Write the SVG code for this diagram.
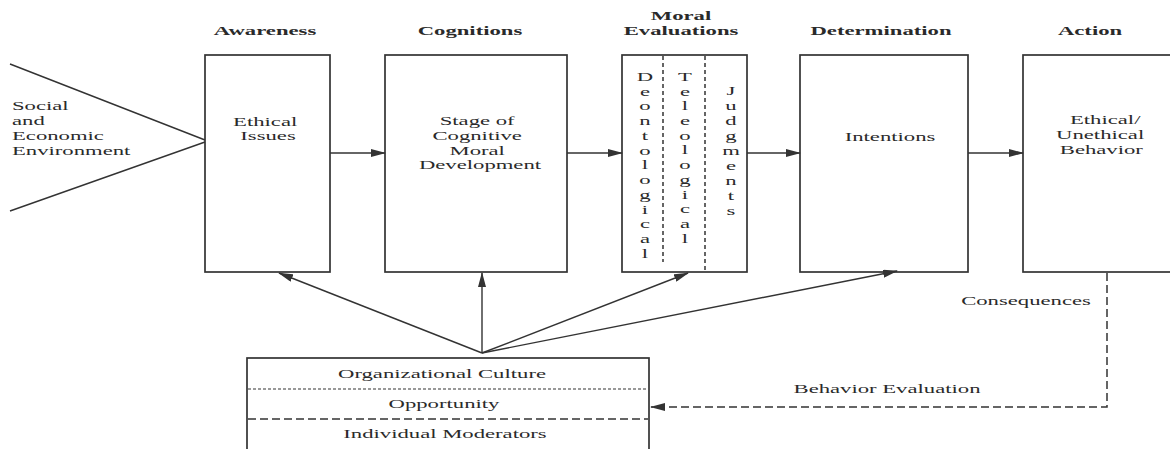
<svg xmlns="http://www.w3.org/2000/svg" width="1170" height="449" viewBox="0 0 1170 449">
  <style>
    .box { fill: #fff; stroke: #333; stroke-width: 1.7; }
    .ln { fill: none; stroke: #333; stroke-width: 1.4; }
    .dash { fill: none; stroke: #333; stroke-width: 1.5; stroke-dasharray: 8 4; }
    .fine { fill: none; stroke: #333; stroke-width: 1.2; stroke-dasharray: 3 2; }
    .sep { fill: none; stroke: #333; stroke-width: 1.5; stroke-dasharray: 4 3; }
    text { font-family: "Liberation Serif", "Times New Roman", serif; font-size: 13.5px; fill: #2a2a2a; }
    .c { text-anchor: middle; }
    .hd { font-weight: bold; text-anchor: middle; }
  </style>
  <defs>
    <marker id="arrow" markerUnits="userSpaceOnUse" markerWidth="15" markerHeight="8" refX="14" refY="4" orient="auto">
      <path d="M0,0 L15,4 L0,8 z" fill="#333"/>
    </marker>
  </defs>

  <rect width="1170" height="449" fill="#fff"/>

  <!-- stage headings -->
  <g id="headings">
    <text class="hd" transform="translate(265,35) scale(1.68,1)">Awareness</text>
    <text class="hd" transform="translate(470,35) scale(1.68,1)">Cognitions</text>
    <text class="hd" transform="translate(681,20) scale(1.68,1)">Moral</text>
    <text class="hd" transform="translate(681,35) scale(1.68,1)">Evaluations</text>
    <text class="hd" transform="translate(881,35) scale(1.68,1)">Determination</text>
    <text class="hd" transform="translate(1090,35) scale(1.68,1)">Action</text>
  </g>

  <!-- environment wedge -->
  <g id="environment">
    <path class="ln" d="M10,64 L205,140 M205,142 L10,211"/>
    <text transform="translate(12,110) scale(1.68,1)">
      <tspan x="0" y="0">Social</tspan>
      <tspan x="0" y="15">and</tspan>
      <tspan x="0" y="30">Economic</tspan>
      <tspan x="0" y="45">Environment</tspan>
    </text>
  </g>

  <g id="ethical-issues">
    <rect class="box" x="205" y="55" width="125" height="217"/>
    <text class="c" transform="translate(268,126) scale(1.68,1)">
      <tspan x="0" y="0">Ethical</tspan>
      <tspan x="0" y="14.5">Issues</tspan>
    </text>
  </g>

  <g id="cognitive-development">
    <rect class="box" x="385" y="55" width="182" height="217"/>
    <text class="c" transform="translate(480,125) scale(1.68,1)">
      <tspan x="0" y="0">Stage of</tspan>
      <tspan x="0" y="14.8">Cognitive</tspan>
      <tspan x="0" y="29.6">Moral</tspan>
      <tspan x="0" y="44.4">Development</tspan>
    </text>
  </g>

  <g id="moral-evaluations">
    <rect class="box" x="622" y="55" width="125" height="217"/>
    <line class="sep" x1="663" y1="56" x2="663" y2="262"/>
    <line class="sep" x1="705" y1="56" x2="705" y2="271"/>
    <text class="c" transform="translate(645,81) scale(1.68,1)">
      <tspan x="0" y="0">D</tspan><tspan x="0" dy="14.75">e</tspan><tspan x="0" dy="14.75">o</tspan><tspan x="0" dy="14.75">n</tspan><tspan x="0" dy="14.75">t</tspan><tspan x="0" dy="14.75">o</tspan><tspan x="0" dy="14.75">l</tspan><tspan x="0" dy="14.75">o</tspan><tspan x="0" dy="14.75">g</tspan><tspan x="0" dy="14.75">i</tspan><tspan x="0" dy="14.75">c</tspan><tspan x="0" dy="14.75">a</tspan><tspan x="0" dy="14.75">l</tspan>
    </text>
    <text class="c" transform="translate(685,81) scale(1.68,1)">
      <tspan x="0" y="0">T</tspan><tspan x="0" dy="14.7">e</tspan><tspan x="0" dy="14.7">l</tspan><tspan x="0" dy="14.7">e</tspan><tspan x="0" dy="14.7">o</tspan><tspan x="0" dy="14.7">l</tspan><tspan x="0" dy="14.7">o</tspan><tspan x="0" dy="14.7">g</tspan><tspan x="0" dy="14.7">i</tspan><tspan x="0" dy="14.7">c</tspan><tspan x="0" dy="14.7">a</tspan><tspan x="0" dy="14.7">l</tspan>
    </text>
    <text class="c" transform="translate(731,95) scale(1.68,1)">
      <tspan x="0" y="0">J</tspan><tspan x="0" dy="15">u</tspan><tspan x="0" dy="15">d</tspan><tspan x="0" dy="15">g</tspan><tspan x="0" dy="15">m</tspan><tspan x="0" dy="15">e</tspan><tspan x="0" dy="15">n</tspan><tspan x="0" dy="15">t</tspan><tspan x="0" dy="15">s</tspan>
    </text>
  </g>

  <g id="intentions">
    <rect class="box" x="800" y="55" width="168" height="217"/>
    <text class="c" transform="translate(890,141) scale(1.68,1)">Intentions</text>
  </g>

  <g id="behavior">
    <rect class="box" x="1023" y="55" width="200" height="217"/>
    <text class="c" transform="translate(1103,124) scale(1.68,1)">
      <tspan x="3" y="0">Ethical/</tspan>
      <tspan x="0" y="14.8">Unethical</tspan>
      <tspan x="-1" y="29.6">Behavior</tspan>
    </text>
  </g>

  <g id="moderators">
    <rect class="box" x="247" y="358" width="402" height="110"/>
    <line class="fine" x1="248" y1="389" x2="648" y2="389"/>
    <line class="dash" x1="248" y1="419" x2="648" y2="419"/>
    <text class="c" transform="translate(442,378) scale(1.68,1)">Organizational Culture</text>
    <text class="c" transform="translate(444,408) scale(1.68,1)">Opportunity</text>
    <text class="c" transform="translate(445,438) scale(1.68,1)">Individual Moderators</text>
  </g>

  <g id="connectors">
    <line class="ln" x1="330" y1="153" x2="385" y2="153" marker-end="url(#arrow)"/>
    <line class="ln" x1="567" y1="153" x2="622" y2="153" marker-end="url(#arrow)"/>
    <line class="ln" x1="747" y1="153" x2="800" y2="153" marker-end="url(#arrow)"/>
    <line class="ln" x1="968" y1="153" x2="1023" y2="153" marker-end="url(#arrow)"/>

    <line class="ln" x1="482" y1="353" x2="279" y2="273" marker-end="url(#arrow)"/>
    <line class="ln" x1="482" y1="353" x2="482" y2="273" marker-end="url(#arrow)"/>
    <line class="ln" x1="482" y1="353" x2="688" y2="273" marker-end="url(#arrow)"/>
    <line class="ln" x1="482" y1="353" x2="897" y2="271" marker-end="url(#arrow)"/>

    <polyline class="dash" points="1107,273 1107,407 651,407" marker-end="url(#arrow)"/>
    <text class="c" transform="translate(1026,305) scale(1.68,1)">Consequences</text>
    <text class="c" transform="translate(887,393) scale(1.68,1)">Behavior Evaluation</text>
  </g>
</svg>
